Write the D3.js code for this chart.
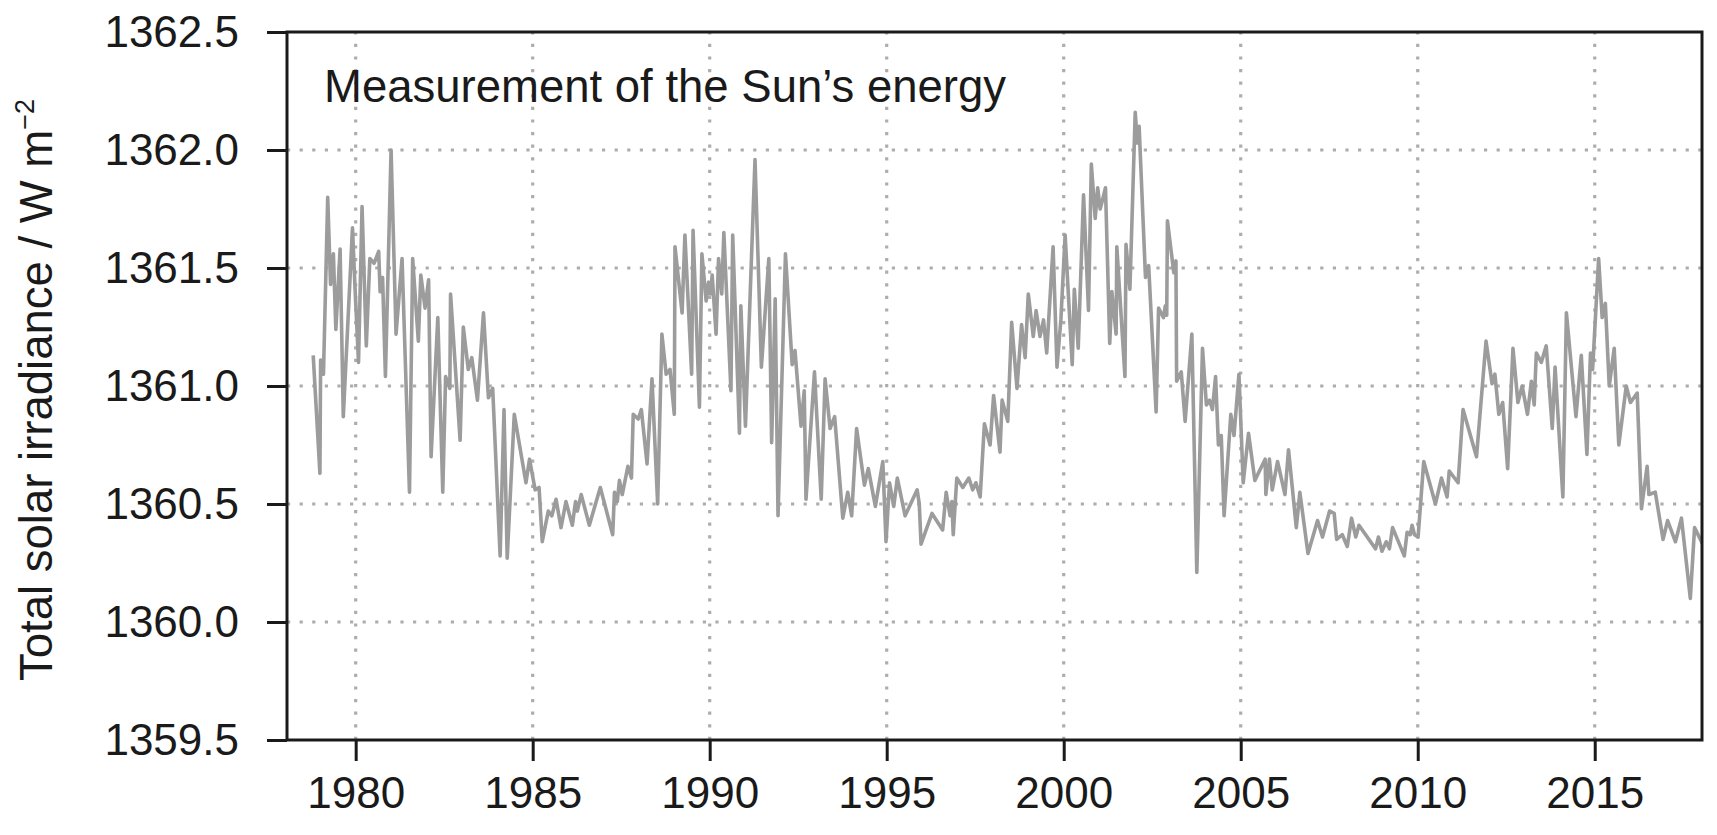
<!DOCTYPE html>
<html>
<head>
<meta charset="utf-8">
<script src="https://cdn.jsdelivr.net/npm/d3@7"></script>
<style>
  html, body { margin: 0; padding: 0; background: #fff; }
  svg { display: block; }
  text { font-family: "Liberation Sans", Arial, Helvetica, sans-serif; fill: #1a1a1a; }
</style>
</head>
<body>
<svg id="chart" width="1717" height="835"></svg>
<script>
// ---- data ----
const years = [
1978.80,1978.99,1979.01,1979.09,1979.21,1979.29,1979.37,1979.44,1979.56,1979.65,
1979.91,1979.98,1980.08,1980.18,1980.30,1980.40,1980.52,1980.65,1980.69,1980.76,
1980.84,1981.00,1981.14,1981.31,1981.52,1981.61,1981.77,1981.84,1981.96,1982.06,
1982.13,1982.32,1982.46,1982.54,1982.66,1982.68,1982.95,1983.04,1983.18,1983.28,
1983.44,1983.61,1983.75,1983.87,1984.08,1984.19,1984.28,1984.48,1984.81,1984.91,
1985.07,1985.18,1985.27,1985.44,1985.54,1985.66,1985.80,1985.94,1986.12,1986.21,
1986.26,1986.37,1986.60,1986.91,1987.26,1987.31,1987.39,1987.45,1987.53,1987.69,
1987.79,1987.84,1987.98,1988.07,1988.23,1988.37,1988.53,1988.65,1988.77,1988.88,
1989.00,1989.02,1989.22,1989.30,1989.49,1989.53,1989.71,1989.78,1989.90,1989.97,
1990.02,1990.07,1990.18,1990.25,1990.34,1990.40,1990.60,1990.65,1990.84,1990.88,
1991.01,1991.28,1991.46,1991.67,1991.75,1991.85,1991.93,1992.14,1992.33,1992.41,
1992.58,1992.67,1992.72,1992.96,1993.15,1993.26,1993.40,1993.53,1993.76,1993.90,
1994.01,1994.15,1994.37,1994.48,1994.68,1994.89,1994.98,1995.08,1995.20,1995.30,
1995.52,1995.86,1995.92,1995.97,1996.28,1996.58,1996.68,1996.79,1996.84,1996.88,
1996.98,1997.15,1997.32,1997.43,1997.52,1997.64,1997.76,1997.92,1998.02,1998.20,
1998.26,1998.42,1998.53,1998.68,1998.81,1998.91,1999.00,1999.14,1999.22,1999.33,
1999.43,1999.52,1999.70,1999.81,1999.92,2000.04,2000.24,2000.30,2000.41,2000.56,
2000.70,2000.78,2000.89,2000.96,2001.03,2001.10,2001.18,2001.30,2001.36,2001.48,
2001.50,2001.73,2001.76,2001.87,2002.02,2002.08,2002.13,2002.31,2002.40,2002.61,
2002.68,2002.82,2002.87,2002.91,2002.93,2003.11,2003.17,2003.19,2003.32,2003.43,
2003.62,2003.76,2003.92,2004.03,2004.12,2004.20,2004.29,2004.37,2004.45,2004.53,
2004.72,2004.81,2004.95,2005.07,2005.22,2005.40,2005.69,2005.71,2005.81,2005.89,
2006.04,2006.25,2006.35,2006.57,2006.67,2006.90,2007.17,2007.31,2007.51,2007.64,
2007.71,2007.87,2008.01,2008.13,2008.25,2008.34,2008.81,2008.89,2008.99,2009.11,
2009.20,2009.29,2009.62,2009.70,2009.79,2009.84,2009.91,2010.01,2010.17,2010.50,
2010.67,2010.83,2010.89,2011.14,2011.28,2011.66,2011.93,2012.10,2012.18,2012.29,
2012.40,2012.54,2012.69,2012.83,2012.95,2013.10,2013.21,2013.29,2013.35,2013.49,
2013.63,2013.80,2013.88,2014.10,2014.20,2014.47,2014.62,2014.78,2014.88,2014.94,
2015.11,2015.21,2015.30,2015.41,2015.55,2015.68,2015.89,2016.01,2016.20,2016.32,
2016.48,2016.53,2016.71,2016.93,2017.06,2017.28,2017.45,2017.70,2017.82,2018.05
];
const tsi = [
1361.13,1360.63,1361.11,1361.05,1361.80,1361.43,1361.56,1361.24,1361.58,1360.87,
1361.67,1361.42,1361.10,1361.76,1361.17,1361.54,1361.52,1361.57,1361.40,1361.46,
1361.04,1362.00,1361.22,1361.54,1360.55,1361.54,1361.19,1361.47,1361.33,1361.45,
1360.70,1361.29,1360.55,1361.04,1360.99,1361.39,1360.77,1361.25,1361.07,1361.12,
1360.94,1361.31,1360.95,1360.99,1360.28,1360.90,1360.27,1360.88,1360.59,1360.69,
1360.56,1360.57,1360.34,1360.47,1360.45,1360.52,1360.40,1360.51,1360.41,1360.51,
1360.47,1360.54,1360.41,1360.57,1360.37,1360.55,1360.51,1360.60,1360.54,1360.66,
1360.61,1360.88,1360.86,1360.90,1360.67,1361.03,1360.50,1361.22,1361.05,1361.07,
1360.88,1361.59,1361.31,1361.64,1361.05,1361.66,1360.91,1361.56,1361.36,1361.44,
1361.39,1361.47,1361.22,1361.54,1361.39,1361.65,1360.98,1361.64,1360.80,1361.34,
1360.83,1361.96,1361.08,1361.54,1360.76,1361.37,1360.45,1361.56,1361.09,1361.15,
1360.83,1360.98,1360.52,1361.06,1360.52,1361.03,1360.82,1360.87,1360.44,1360.55,
1360.45,1360.82,1360.58,1360.65,1360.49,1360.68,1360.34,1360.59,1360.49,1360.61,
1360.45,1360.56,1360.50,1360.33,1360.46,1360.39,1360.55,1360.45,1360.51,1360.37,
1360.61,1360.57,1360.61,1360.56,1360.59,1360.53,1360.84,1360.75,1360.96,1360.72,
1360.94,1360.85,1361.27,1360.99,1361.26,1361.12,1361.39,1361.21,1361.32,1361.21,
1361.28,1361.14,1361.59,1361.08,1361.28,1361.64,1361.09,1361.41,1361.16,1361.81,
1361.32,1361.94,1361.71,1361.84,1361.75,1361.79,1361.84,1361.18,1361.40,1361.22,
1361.59,1361.04,1361.60,1361.41,1362.16,1362.03,1362.10,1361.46,1361.51,1360.89,
1361.33,1361.29,1361.34,1361.30,1361.70,1361.48,1361.53,1361.02,1361.06,1360.85,
1361.22,1360.21,1361.16,1360.92,1360.94,1360.90,1361.04,1360.75,1360.79,1360.45,
1360.88,1360.79,1361.05,1360.59,1360.80,1360.60,1360.69,1360.54,1360.69,1360.56,
1360.68,1360.54,1360.73,1360.40,1360.55,1360.29,1360.43,1360.36,1360.47,1360.46,
1360.35,1360.37,1360.32,1360.44,1360.36,1360.41,1360.31,1360.36,1360.30,1360.34,
1360.31,1360.40,1360.28,1360.38,1360.37,1360.41,1360.37,1360.36,1360.68,1360.50,
1360.61,1360.53,1360.64,1360.59,1360.90,1360.70,1361.19,1361.01,1361.05,1360.88,
1360.93,1360.65,1361.16,1360.93,1361.00,1360.88,1361.02,1360.92,1361.14,1361.10,
1361.17,1360.82,1361.08,1360.53,1361.31,1360.87,1361.13,1360.71,1361.14,1361.07,
1361.54,1361.29,1361.35,1361.00,1361.16,1360.75,1361.00,1360.93,1360.97,1360.48,
1360.66,1360.54,1360.55,1360.35,1360.43,1360.34,1360.44,1360.10,1360.40,1360.33
];
const xTicks = [1980, 1985, 1990, 1995, 2000, 2005, 2010, 2015];
const yTicks = [1359.5, 1360.0, 1360.5, 1361.0, 1361.5, 1362.0, 1362.5];
const yGrid = [1360.0, 1360.5, 1361.0, 1361.5, 1362.0];
const titleText = "Measurement of the Sun\u2019s energy";
const yLabelText = "Total solar irradiance / W m";
const yLabelSup = "\u22122";

// ---- layout ----
const L = 287, R = 1702, T = 32, B = 740;
const svg = d3.select("#chart");
const x = d3.scaleLinear().domain([1978.06, 2018.03]).range([L, R]);
const y = d3.scaleLinear().domain([1359.5, 1362.5]).range([B, T]);

const data = years.map((yr, i) => ({yr, v: tsi[i]}));

svg.append("defs").append("clipPath").attr("id", "clip")
  .append("rect").attr("x", L).attr("y", T).attr("width", R - L).attr("height", B - T);

// grid
const grid = svg.append("g");
grid.selectAll("line.h").data(yGrid).join("line")
  .attr("x1", L).attr("x2", R)
  .attr("y1", d => y(d)).attr("y2", d => y(d))
  .attr("stroke", "#adadad").attr("stroke-width", 3.2)
  .attr("stroke-dasharray", "3.2,9.4");
grid.selectAll("line.v").data(xTicks).join("line")
  .attr("y1", B).attr("y2", T)
  .attr("x1", d => x(d)).attr("x2", d => x(d))
  .attr("stroke", "#adadad").attr("stroke-width", 3.2)
  .attr("stroke-dasharray", "3.2,9.4");

// data line
svg.append("path")
  .datum(data)
  .attr("clip-path", "url(#clip)")
  .attr("fill", "none")
  .attr("stroke", "#9c9c9c")
  .attr("stroke-width", 3.6)
  .attr("stroke-linejoin", "round")
  .attr("d", d3.line().x(d => x(d.yr)).y(d => y(d.v)));

// axes
const xAxis = svg.append("g").attr("transform", `translate(0,${B})`)
  .call(d3.axisBottom(x).tickValues(xTicks).tickFormat(d3.format("d")).tickSize(21).tickPadding(16).tickSizeOuter(0));
const yAxis = svg.append("g").attr("transform", `translate(${L},0)`)
  .call(d3.axisLeft(y).tickValues(yTicks).tickFormat(d3.format(".1f")).tickSize(20).tickPadding(28).tickSizeOuter(0));
[xAxis, yAxis].forEach(g => {
  g.select(".domain").remove();
  g.selectAll(".tick line").attr("stroke", "#1a1a1a").attr("stroke-width", 3);
  g.selectAll(".tick text").attr("font-size", 44).attr("fill", "#1a1a1a")
    .attr("font-family", "'Liberation Sans', Arial, sans-serif");
});

// frame
svg.append("rect").attr("x", L).attr("y", T).attr("width", R - L).attr("height", B - T)
  .attr("fill", "none").attr("stroke", "#1a1a1a").attr("stroke-width", 3);

// title
svg.append("text").attr("x", 324).attr("y", 102)
  .attr("font-size", 45.5).text(titleText);

// y label
const yl = svg.append("text")
  .attr("transform", `translate(52,${(T + B) / 2 + 4}) rotate(-90)`)
  .attr("text-anchor", "middle").attr("font-size", 45.5);
yl.append("tspan").text(yLabelText);
yl.append("tspan").attr("dy", -18).attr("font-size", 27).text(yLabelSup);
</script>
</body>
</html>
